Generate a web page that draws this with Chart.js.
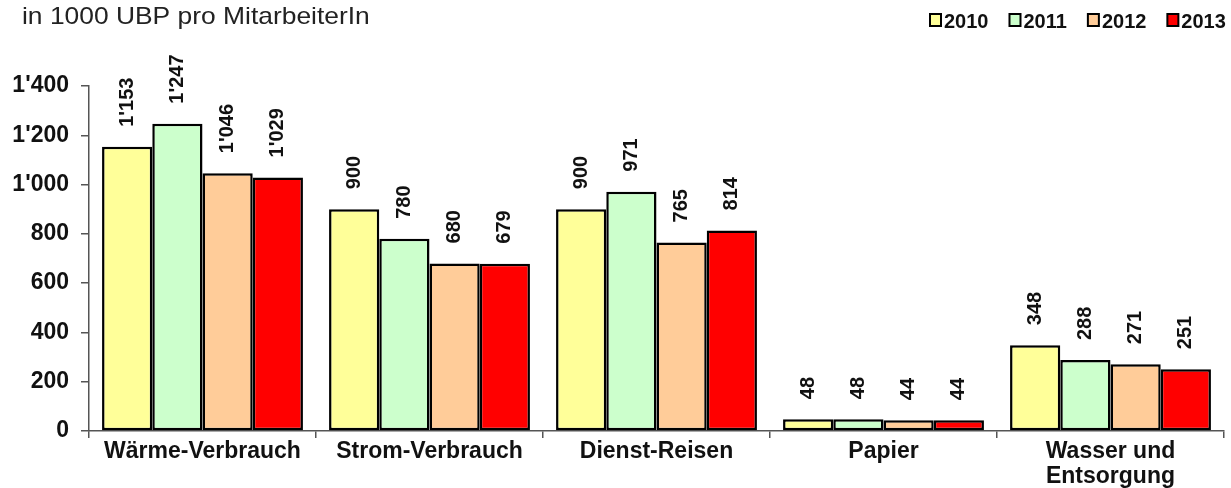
<!DOCTYPE html>
<html>
<head>
<meta charset="utf-8">
<script src="https://cdn.jsdelivr.net/npm/chart.js@4.4.1/dist/chart.umd.min.js"></script>
<style>
  html, body { margin: 0; padding: 0; background: #fff; }
  #wrap { width: 1231px; height: 488px; position: relative; }
</style>
</head>
<body>
<div id="wrap"><canvas id="c" width="1231" height="488"></canvas></div>
<script>
// Umweltbelastung in 1000 UBP pro MitarbeiterIn, 2010–2013
const categories = ['Wärme-Verbrauch', 'Strom-Verbrauch', 'Dienst-Reisen', 'Papier', ['Wasser und', 'Entsorgung']];
const years = ['2010', '2011', '2012', '2013'];
const values2010 = [1153, 900, 900, 48, 348];
const values2011 = [1247, 780, 971, 48, 288];
const values2012 = [1046, 680, 765, 44, 271];
const values2013 = [1029, 679, 814, 44, 251];
const yTicks = [0, 200, 400, 600, 800, 1000, 1200, 1400];
const titleText = 'in 1000 UBP pro MitarbeiterIn';

const colors = ['#FFFF99', '#CCFFCC', '#FFCC99', '#FF0000'];
const FONT = '"Liberation Sans", Arial, sans-serif';

// Swiss thousands separator: 1'153
function fmt(v) {
  return String(Math.round(v)).replace(/\B(?=(\d{3})+(?!\d))/g, "'");
}

const valuesByYear = [values2010, values2011, values2012, values2013];

// Rotated value labels above each bar
const valueLabels = {
  id: 'valueLabels',
  afterDatasetsDraw(chart) {
    const ctx = chart.ctx;
    ctx.save();
    ctx.font = 'bold 20px ' + FONT;
    ctx.fillStyle = '#111';
    ctx.textAlign = 'left';
    ctx.textBaseline = 'middle';
    chart.data.datasets.forEach((ds, i) => {
      const meta = chart.getDatasetMeta(i);
      meta.data.forEach((bar, j) => {
        ctx.save();
        ctx.translate(bar.x, bar.y - 20);
        ctx.rotate(-Math.PI / 2);
        ctx.fillText(fmt(ds.data[j]), 0, 0);
        ctx.restore();
      });
    });
    ctx.restore();
  }
};

// Heading at top left and the year legend at top right
const header = {
  id: 'header',
  afterDraw(chart) {
    const ctx = chart.ctx;
    ctx.save();
    ctx.font = '24px ' + FONT;
    ctx.fillStyle = '#222';
    ctx.textBaseline = 'alphabetic';
    ctx.textAlign = 'left';
    ctx.save();
    ctx.translate(22, 24);
    ctx.scale(1.1, 1);
    ctx.fillText(titleText, 0, 0);
    ctx.restore();

    ctx.font = 'bold 20px ' + FONT;
    let x = 930;
    chart.data.datasets.forEach((ds) => {
      ctx.fillStyle = ds.backgroundColor;
      ctx.fillRect(x, 14, 11, 12);
      ctx.lineWidth = 2;
      ctx.strokeStyle = '#000';
      ctx.strokeRect(x, 14, 11, 12);
      ctx.fillStyle = '#111';
      ctx.fillText(ds.label, x + 14, 28);
      x += 14 + ctx.measureText(ds.label).width + 21;
    });
    ctx.restore();
  }
};

new Chart(document.getElementById('c'), {
  type: 'bar',
  data: {
    labels: categories,
    datasets: years.map((y, i) => ({
      label: y,
      data: valuesByYear[i],
      backgroundColor: colors[i],
      borderColor: '#000',
      borderWidth: 2.5,
      borderSkipped: false,
      categoryPercentage: 0.885,
      barPercentage: 1.0
    }))
  },
  options: {
    responsive: false,
    animation: false,
    layout: { padding: { top: 86, left: 0, right: 7, bottom: 0 } },
    plugins: {
      legend: { display: false },
      title: { display: false },
      tooltip: { enabled: false }
    },
    scales: {
      x: {
        offset: true,
        grid: {
          offset: true,
          drawOnChartArea: false,
          drawTicks: true,
          tickLength: 7,
          color: '#555',
          lineWidth: 1.5
        },
        border: { display: true, color: '#555', width: 1.5 },
        ticks: {
          color: '#111',
          font: { family: FONT, size: 23, weight: 'bold', lineHeight: 1.1 },
          padding: 1,
          maxRotation: 0,
          autoSkip: false
        },
        afterFit(scale) { scale.height = 488 - 431; }
      },
      y: {
        min: 0,
        max: 1400,
        afterBuildTicks(scale) { scale.ticks = yTicks.map(v => ({ value: v })); },
        grid: {
          drawOnChartArea: false,
          drawTicks: true,
          tickLength: 8,
          color: '#555',
          lineWidth: 1.5
        },
        border: { display: true, color: '#555', width: 1.5 },
        ticks: {
          color: '#111',
          font: { family: FONT, size: 23, weight: 'bold' },
          padding: 12,
          callback: (v) => fmt(v)
        },
        afterFit(scale) { scale.width = 89; }
      }
    }
  },
  plugins: [valueLabels, header]
});
</script>
</body>
</html>
